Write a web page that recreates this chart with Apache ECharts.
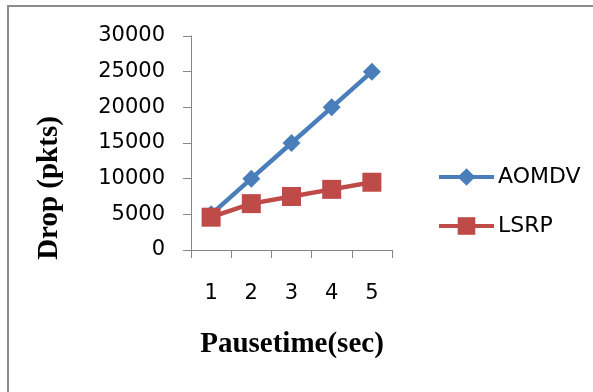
<!DOCTYPE html>
<html><head><meta charset="utf-8">
<script src="https://cdn.jsdelivr.net/npm/echarts@6/dist/echarts.min.js"></script>
<style>html,body{margin:0;padding:0;background:#fff}#c{width:593px;height:392px}</style>
</head><body><div id="c"></div>
<script>
const categories = ['1', '2', '3', '4', '5'];
const aomdv = [5000, 10000, 15000, 20000, 25000];
const lsrp = [4600, 6500, 7500, 8500, 9500];
const yTicks = { min: 0, max: 30000, interval: 5000 };

const chart = echarts.init(document.getElementById('c'));
const axisCol = '#868686';
chart.setOption({
  animation: false,
  backgroundColor: '#fff',
  grid: { left: 191, top: 36, width: 201, height: 214 },
  xAxis: {
    type: 'category', data: categories, boundaryGap: true,
    axisLine: { lineStyle: { color: axisCol, width: 1 } },
    axisTick: { show: true, length: 8, lineStyle: { color: axisCol } },
    axisLabel: { margin: 33, fontFamily: 'DejaVu Sans', fontSize: 21, color: '#000' },
    splitLine: { show: false }
  },
  yAxis: {
    type: 'value', min: yTicks.min, max: yTicks.max, interval: yTicks.interval,
    axisLine: { show: true, lineStyle: { color: axisCol, width: 1 } },
    axisTick: { show: true, length: 8, lineStyle: { color: axisCol } },
    axisLabel: { margin: 26, fontFamily: 'DejaVu Sans', fontSize: 21, color: '#000', formatter: v => String(v) },
    splitLine: { show: false }
  },
  legend: {
    orient: 'vertical', left: 432, top: 161,
    itemWidth: 55, itemHeight: 22, itemGap: 27,
    lineStyle: { width: 4 },
    textStyle: { fontFamily: 'DejaVu Sans', fontSize: 22, color: '#000', padding: [0, 0, 0, -1] },
    data: ['AOMDV', 'LSRP']
  },
  series: [
    { name: 'AOMDV', type: 'line', data: aomdv, symbol: 'diamond', symbolSize: 18,
      lineStyle: { color: '#4a7ebb', width: 4.5 }, itemStyle: { color: '#4a7ebb' } },
    { name: 'LSRP', type: 'line', data: lsrp, symbol: 'rect', symbolSize: 19,
      lineStyle: { color: '#be4b48', width: 4.5 }, itemStyle: { color: '#be4b48' } }
  ],
  graphic: [
    { type: 'line', shape: { x1: 7, y1: 6, x2: 593, y2: 6 }, style: { stroke: '#8c8c8c', lineWidth: 2 } },
    { type: 'line', shape: { x1: 8, y1: 6, x2: 8, y2: 392 }, style: { stroke: '#8c8c8c', lineWidth: 2 } },
    { type: 'text', x: 292, y: 345, style: { text: 'Pausetime(sec)', font: 'bold 29px "Liberation Serif"', fill: '#000', textAlign: 'center', textVerticalAlign: 'middle' } },
    { type: 'text', x: 50, y: 188, rotation: Math.PI / 2, style: { text: 'Drop (pkts)', font: 'bold 29px "Liberation Serif"', fill: '#000', textAlign: 'center', textVerticalAlign: 'middle' } }
  ]
});
</script></body></html>
